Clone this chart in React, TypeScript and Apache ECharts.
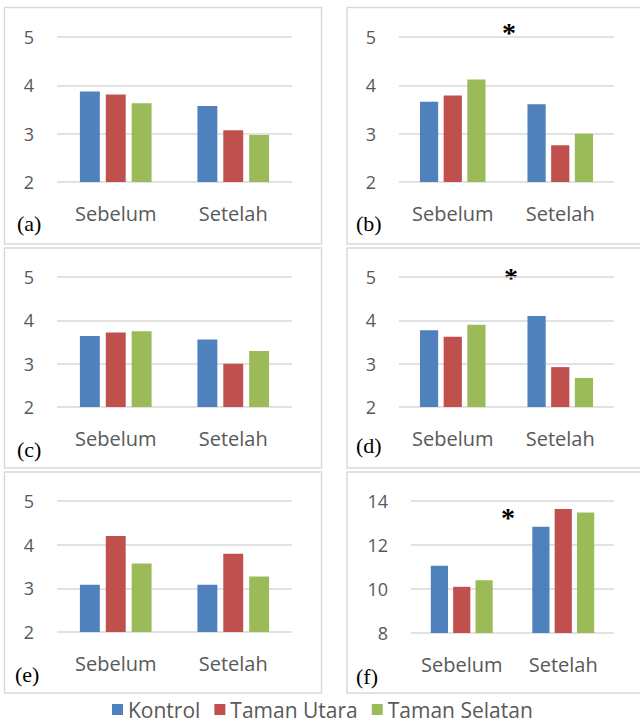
import React, { useEffect, useRef } from "react";
import * as echarts from "echarts";

const categories = ["Sebelum", "Setelah"];
const seriesNames = ["Kontrol", "Taman Utara", "Taman Selatan"];
const seriesColors = ["#4F81BD", "#C0504D", "#9BBB59"];

// values per panel: [Kontrol, Taman Utara, Taman Selatan], each [Sebelum, Setelah]
const panelA = [[3.87, 3.57], [3.81, 3.07], [3.63, 2.97]];
const panelB = [[3.66, 3.61], [3.79, 2.76], [4.12, 3.0]];
const panelC = [[3.64, 3.56], [3.72, 3.0], [3.75, 3.29]];
const panelD = [[3.77, 4.1], [3.62, 2.92], [3.9, 2.67]];
const panelE = [[3.08, 3.08], [4.2, 3.79], [3.57, 3.27]];
const panelF = [[11.06, 12.83], [10.1, 13.64], [10.4, 13.48]];

const panelLabels = ["(a)", "(b)", "(c)", "(d)", "(e)", "(f)"];
const scaleABCDE = { min: 2, max: 5, interval: 1 };
const scaleF = { min: 8, max: 14, interval: 2 };
const significant = [false, true, false, true, false, true];

export default function App() {
  const ref = useRef<HTMLDivElement>(null);
  useEffect(() => {
    if (!ref.current) return;
    const chart = echarts.init(ref.current, null, { renderer: "svg" });
    const panels = [panelA, panelB, panelC, panelD, panelE, panelF];
    const scales = [scaleABCDE, scaleABCDE, scaleABCDE, scaleABCDE, scaleABCDE, scaleF];

    const grids = [
      { left: 57, top: 37, width: 235, height: 145 },
      { left: 399, top: 37, width: 215, height: 145 },
      { left: 57, top: 277, width: 235, height: 130 },
      { left: 399, top: 277, width: 215, height: 130 },
      { left: 57, top: 501, width: 235, height: 131 },
      { left: 411, top: 501, width: 203, height: 132 },
    ];
    const boxes = [
      { x: 4.5, y: 7.5, w: 317, h: 236.5 },
      { x: 347, y: 7.5, w: 300, h: 236.5 },
      { x: 4.5, y: 248, w: 317, h: 220 },
      { x: 347, y: 248, w: 300, h: 220 },
      { x: 4.5, y: 472, w: 317, h: 221 },
      { x: 347, y: 472, w: 300, h: 221 },
    ];
    const labelPos = [
      { x: 17, y: 223 },
      { x: 356, y: 223 },
      { x: 17, y: 449 },
      { x: 356, y: 445 },
      { x: 15, y: 674 },
      { x: 356, y: 676 },
    ];
    const starPos = [null, { x: 509, y: 30 }, null, { x: 511, y: 275 }, null, { x: 508, y: 515 }];

    const xAxis = grids.map((_, i) => ({
      type: "category",
      gridIndex: i,
      data: categories,
      axisLine: { show: false },
      axisTick: { show: false },
      axisLabel: {
        color: "#595959",
        fontSize: 20,
        fontFamily: "Open Sans",
        margin: 21,
        interval: 0,
        hideOverlap: false,
      },
    }));
    const yAxis = grids.map((_, i) => ({
      type: "value",
      gridIndex: i,
      min: scales[i].min,
      max: scales[i].max,
      interval: scales[i].interval,
      axisLine: { show: false },
      axisTick: { show: false },
      axisLabel: {
        color: "#595959",
        fontSize: 18,
        fontFamily: "Open Sans",
        margin: 23,
      },
      splitLine: { lineStyle: { color: "#d9d9d9", width: 1.5 } },
    }));
    const series: any[] = [];
    panels.forEach((p, i) => {
      p.forEach((vals, s) => {
        series.push({
          type: "bar",
          name: seriesNames[s],
          xAxisIndex: i,
          yAxisIndex: i,
          data: vals,
          barGap: "30%",
          barCategoryGap: "39%",
          itemStyle: { color: seriesColors[s] },
        });
      });
    });

    const graphic: any[] = [];
    boxes.forEach((b) => {
      graphic.push({
        type: "rect",
        shape: { x: b.x, y: b.y, width: b.w, height: b.h },
        style: { fill: "none", stroke: "#d9d9d9", lineWidth: 1.5 },
        silent: true,
      });
    });
    labelPos.forEach((p, i) => {
      graphic.push({
        type: "text",
        x: p.x,
        y: p.y,
        style: {
          text: panelLabels[i],
          fontFamily: "Liberation Serif",
          fontSize: 22,
          fill: "#000",
          textAlign: "left",
          textVerticalAlign: "middle",
        },
      });
    });
    starPos.forEach((p, i) => {
      if (!p || !significant[i]) return;
      graphic.push({
        type: "text",
        x: p.x,
        y: p.y + 2,
        style: {
          text: "*",
          fontFamily: "Liberation Serif",
          fontWeight: "bold",
          fontSize: 28,
          fill: "#000",
          textAlign: "center",
          textVerticalAlign: "middle",
        },
      });
    });

    chart.setOption({
      animation: false,
      backgroundColor: "#ffffff",
      grid: grids,
      xAxis,
      yAxis,
      series,
      legend: {
        data: seriesNames,
        left: 112,
        top: 699,
        icon: "rect",
        itemWidth: 11,
        itemHeight: 11,
        itemGap: 14,
        padding: 0,
        textStyle: {
          color: "#595959",
          fontSize: 21,
          lineHeight: 20,
          fontFamily: "Open Sans",
        },
      },
      graphic,
    });
    return () => chart.dispose();
  }, []);
  return (
    <div
      ref={ref}
      style={{ position: "fixed", left: 0, top: 0, width: 640, height: 724, background: "#fff" }}
    />
  );
}
